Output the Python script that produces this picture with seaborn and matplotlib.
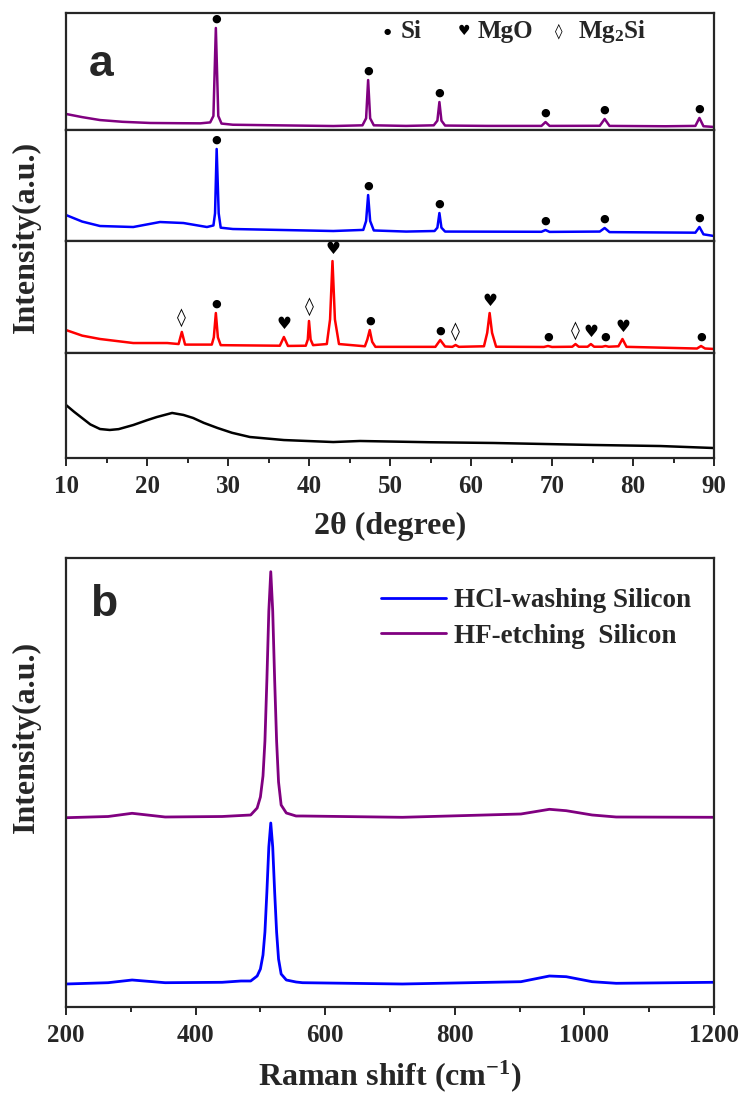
import numpy as np
import pandas as pd
import matplotlib
matplotlib.use('Agg')
import matplotlib.pyplot as plt
from matplotlib.ticker import MultipleLocator
import seaborn as sns

# ---- (a) XRD patterns, intensity in arbitrary units per strip (0-100) ----
# HF-etched silicon (purple, top)
hf_2theta = [10.0, 12.0, 14.2, 17.0, 20.4, 24.0, 26.6, 27.8, 28.2, 28.5, 28.8, 29.2, 30.6,
             36.0, 43.0, 46.6, 47.05, 47.3, 47.55, 48.0, 52.0, 55.4, 55.85, 56.1, 56.35,
             56.8, 62.0, 68.7, 69.2, 69.7, 75.9, 76.5, 77.1, 84.0, 87.7, 88.2, 88.7, 90.0]
hf_int = [13.7, 11.0, 8.5, 7.0, 6.0, 5.8, 5.7, 6.5, 12.0, 87.2, 12.0, 5.5, 4.5,
          4.0, 3.4, 4.0, 10.0, 42.7, 10.0, 4.0, 3.5, 4.0, 8.0, 23.9, 8.0,
          3.8, 3.5, 3.5, 6.8, 3.5, 3.6, 9.4, 3.5, 3.2, 3.5, 10.3, 3.2, 2.6]

# HCl-washed silicon (blue)
hcl_2theta = [10.0, 12.0, 14.2, 18.3, 21.6, 24.5, 27.4, 28.2, 28.4, 28.6, 28.85, 29.1, 30.6,
              43.0, 46.7, 47.05, 47.3, 47.55, 48.0, 52.0, 55.5, 55.85, 56.1, 56.35, 56.8,
              68.7, 69.2, 69.7, 75.9, 76.5, 77.1, 87.7, 88.2, 88.7, 90.0]
hcl_int = [23.4, 17.5, 13.5, 12.6, 17.1, 16.2, 12.6, 14.0, 25.0, 82.9, 25.0, 12.0, 10.8,
           9.0, 10.0, 18.0, 41.4, 18.0, 9.5, 8.5, 9.0, 12.0, 25.2, 12.0, 8.5,
           8.3, 9.9, 8.2, 8.5, 11.7, 8.0, 7.5, 12.6, 6.0, 4.5]

# Mg-reduced product (red)
mg_2theta = [10.0, 12.0, 14.2, 18.3, 22.5, 23.9, 24.3, 24.7, 28.0, 28.25, 28.5, 28.75, 29.1,
             36.4, 36.9, 37.4, 39.6, 39.85, 40.0, 40.2, 40.5, 42.2, 42.6, 42.9, 43.2, 43.7,
             46.9, 47.2, 47.5, 47.8, 48.2, 55.6, 56.2, 56.8, 57.7, 58.1, 58.5,
             61.6, 62.0, 62.3, 62.6, 63.1, 69.0, 69.5, 70.0, 72.5, 72.9, 73.3,
             74.4, 74.8, 75.2, 76.2, 76.6, 77.0, 78.2, 78.7, 79.2, 87.9, 88.4, 88.9, 90.0]
mg_int = [20.5, 15.5, 12.5, 8.9, 8.9, 8.0, 18.8, 7.5, 7.5, 14.0, 35.7, 14.0, 7.0,
          6.5, 14.3, 6.3, 6.5, 12.0, 28.6, 12.0, 7.0, 8.0, 30.0, 82.1, 30.0, 8.0,
          6.0, 12.0, 20.5, 10.0, 5.5, 5.5, 11.6, 5.8, 5.5, 7.1, 5.5,
          6.0, 18.0, 35.7, 18.0, 5.6, 5.4, 6.25, 5.4, 5.6, 8.0, 5.6,
          5.6, 8.0, 5.6, 5.6, 6.25, 5.6, 6.0, 12.5, 5.5, 4.0, 6.25, 4.0, 3.6]

# Starting silica (black, bottom)
sio2_2theta = [10.0, 11.0, 12.0, 13.0, 14.2, 15.4, 16.5, 18.3, 20.0, 21.2, 23.1, 24.5, 25.7,
               27.0, 28.7, 30.5, 32.7, 36.9, 43.0, 46.3, 55.0, 62.8, 75.1, 83.4, 90.0]
sio2_int = [50.5, 44.0, 38.0, 32.0, 27.6, 26.7, 27.5, 31.4, 36.0, 39.0, 42.9, 41.0, 38.1,
            33.5, 28.6, 24.0, 20.0, 17.1, 15.2, 16.2, 15.0, 14.3, 12.4, 11.4, 9.5]

# phase markers: peak position and phase
hf_peaks = [28.5, 47.3, 56.1, 69.2, 76.5, 88.2]
hf_phase = ['Si'] * 6
hcl_peaks = [28.6, 47.3, 56.1, 69.2, 76.5, 88.2]
hcl_phase = ['Si'] * 6
mg_peaks = [24.3, 28.5, 36.9, 40.0, 42.9, 47.5, 56.2, 58.1, 62.3, 69.5, 72.9, 74.8, 76.6, 78.7, 88.4]
mg_phase = ['Mg2Si', 'Si', 'MgO', 'Mg2Si', 'MgO', 'Si', 'Si', 'Mg2Si', 'MgO', 'Si',
            'Mg2Si', 'MgO', 'Si', 'MgO', 'Si']

# ---- (b) Raman spectra ----
raman_shift = [200, 265, 302, 353, 441, 470, 485, 495, 500, 504, 507, 510, 513, 516, 519,
               522, 525, 528, 532, 540, 555, 565, 719, 902, 946, 972, 1012, 1049, 1200]
raman_hcl = [23.0, 24.3, 27.0, 24.3, 24.7, 26.0, 26.0, 31.0, 38.0, 52.0, 75.0, 115.0, 160.0,
             184.0, 160.0, 115.0, 75.0, 48.0, 33.0, 27.0, 25.0, 24.3, 23.0, 25.3, 31.0,
             30.3, 25.3, 23.7, 24.7]
raman_hf = [189.3, 190.5, 193.7, 190.0, 190.5, 191.5, 192.0, 199.0, 210.0, 231.0, 266.0,
            327.0, 396.0, 435.3, 396.0, 327.0, 266.0, 225.0, 202.0, 194.0, 191.0, 191.0,
            189.7, 193.0, 197.7, 196.3, 192.0, 190.0, 189.7]

COLORS = {'hf': '#800080', 'hcl': '#0000FF', 'mg': '#FF0000', 'sio2': '#000000'}
SYMBOL = {'Si': '\u25CF', 'MgO': '\u2665', 'Mg2Si': '\u25CA'}
SYM_SIZE = {'Si': 8, 'MgO': 12, 'Mg2Si': 13}
SYM_PAD = {'Si': 6.5, 'MgO': 9.0, 'Mg2Si': 10.0}

sns.set_style('ticks')
plt.rcParams['font.family'] = ['Liberation Serif', 'DejaVu Sans']
plt.rcParams['font.weight'] = 'bold'
plt.rcParams['axes.linewidth'] = 1.6
plt.rcParams['mathtext.fontset'] = 'custom'
plt.rcParams['mathtext.rm'] = 'Liberation Serif:bold'
plt.rcParams['mathtext.it'] = 'Liberation Serif:bold'
plt.rcParams['mathtext.bf'] = 'Liberation Serif:bold'

fig = plt.figure(figsize=(7.42, 10.95), dpi=100)
W, H = 742, 1095
left, right = 66, 714


def rect(top, bottom):
    return [left / W, 1 - bottom / H, (right - left) / W, (bottom - top) / H]


def style_ax(ax, show_labels, major, minor):
    ax.xaxis.set_major_locator(MultipleLocator(major))
    ax.xaxis.set_minor_locator(MultipleLocator(minor))
    ax.tick_params(axis='x', which='major', direction='out', length=6, width=1.4,
                   labelsize=18, labelbottom=show_labels, pad=6)
    ax.tick_params(axis='x', which='minor', direction='out', length=3.8, width=1.4)
    ax.tick_params(axis='y', left=False, labelleft=False)
    ax.set_xlabel('')
    ax.set_ylabel('')
    for s in ax.spines.values():
        s.set_visible(True)
        s.set_linewidth(1.6)


# ---- panel a ----
bounds = [13, 130, 241, 353, 458]
patterns = [
    (hf_2theta, hf_int, COLORS['hf'], hf_peaks, hf_phase),
    (hcl_2theta, hcl_int, COLORS['hcl'], hcl_peaks, hcl_phase),
    (mg_2theta, mg_int, COLORS['mg'], mg_peaks, mg_phase),
    (sio2_2theta, sio2_int, COLORS['sio2'], [], []),
]
axes_a = []
for i, (xs, ys, col, peaks, phases) in enumerate(patterns):
    ax = fig.add_axes(rect(bounds[i], bounds[i + 1]))
    df = pd.DataFrame({'x': xs, 'y': ys})
    sns.lineplot(data=df, x='x', y='y', ax=ax, color=col, linewidth=1.8,
                 estimator=None, sort=False)
    ax.set_xlim(10, 90)
    ax.set_ylim(0, 100)
    style_ax(ax, i == 3, 10, 5)
    for p, ph in zip(peaks, phases):
        yv = np.interp(p, xs, ys)
        ax.annotate(SYMBOL[ph], xy=(p, yv), xytext=(0, SYM_PAD[ph]), textcoords='offset points',
                    ha='center', va='center', fontsize=SYM_SIZE[ph], color='black',
                    family='DejaVu Sans')
    axes_a.append(ax)

axes_a[3].set_xlabel('2\u03b8 (degree)', fontsize=23, fontweight='bold', labelpad=10)

# phase key at the top strip
top = axes_a[0]
key = [(49.7, 51.3, 'Si', 'Si'), (59.1, 60.8, 'MgO', 'MgO'), (70.8, 73.2, 'Mg2Si', 'Mg$_2$Si')]
for xs_, xt_, ph, lab in key:
    top.text(xs_, 84.6, SYMBOL[ph], ha='center', va='center', family='DejaVu Sans',
             fontsize={'Si': 6, 'MgO': 10, 'Mg2Si': 11}[ph], color='black')
    top.text(xt_, 84.6, lab, ha='left', va='center', fontsize=18, fontweight='bold')

fig.text(101 / W, 1 - 65 / H, 'a', family='Liberation Sans', fontsize=32, fontweight='bold',
         ha='center', va='center')
fig.text(26 / W, 1 - 237 / H, 'Intensity(a.u.)', rotation=90, fontsize=23, fontweight='bold',
         ha='center', va='center')

# ---- panel b ----
axb = fig.add_axes(rect(558, 1007))
raman = pd.DataFrame({
    'shift': raman_shift * 2,
    'intensity': raman_hcl + raman_hf,
    'sample': ['HCl-washing Silicon'] * len(raman_shift) + ['HF-etching  Silicon'] * len(raman_shift),
})
sns.lineplot(data=raman, x='shift', y='intensity', hue='sample', ax=axb, linewidth=2.0,
             palette={'HCl-washing Silicon': COLORS['hcl'], 'HF-etching  Silicon': COLORS['hf']},
             estimator=None, sort=False)
axb.set_xlim(200, 1200)
axb.set_ylim(0, 449)
style_ax(axb, True, 200, 100)
axb.set_xlabel('Raman shift (cm$^{-1}$)', fontsize=23, fontweight='bold', labelpad=8)
handles, labels = axb.get_legend_handles_labels()
axb.legend(handles, labels, frameon=False, loc='upper left',
           bbox_to_anchor=(381 / W, 1 - 588 / H), bbox_transform=fig.transFigure,
           borderpad=0, borderaxespad=0, handlelength=2.4, handletextpad=0.3,
           labelspacing=0.4, prop={'weight': 'bold', 'size': 19.5})

fig.text(104 / W, 1 - 604 / H, 'b', family='Liberation Sans', fontsize=32, fontweight='bold',
         ha='center', va='center')
fig.text(26 / W, 1 - 737 / H, 'Intensity(a.u.)', rotation=90, fontsize=23, fontweight='bold',
         ha='center', va='center')

fig.savefig('out.png', dpi=100)
